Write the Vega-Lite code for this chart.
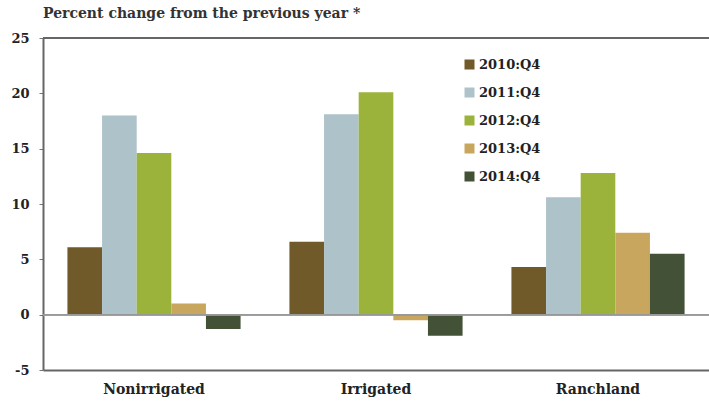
{
  "$schema": "https://vega.github.io/schema/vega-lite/v6.json",
  "width": 666,
  "height": 332,
  "autosize": {"type": "none"},
  "padding": {"left": 43, "top": 38, "right": 0, "bottom": 33},
  "background": "white",
  "title": {"text": "Percent change from the previous year *", "anchor": "start", "frame": "group", "font": "DejaVu Serif", "fontSize": 14, "fontWeight": "bold", "color": "#333333", "offset": 11},
  "config": {"view": {"stroke": null}, "font": "DejaVu Serif"},
  "data": {"values": [
    {"category": "Nonirrigated", "year": "2010:Q4", "value": 6.1},
    {"category": "Nonirrigated", "year": "2011:Q4", "value": 18.0},
    {"category": "Nonirrigated", "year": "2012:Q4", "value": 14.6},
    {"category": "Nonirrigated", "year": "2013:Q4", "value": 1.0},
    {"category": "Nonirrigated", "year": "2014:Q4", "value": -1.3},
    {"category": "Irrigated", "year": "2010:Q4", "value": 6.6},
    {"category": "Irrigated", "year": "2011:Q4", "value": 18.1},
    {"category": "Irrigated", "year": "2012:Q4", "value": 20.1},
    {"category": "Irrigated", "year": "2013:Q4", "value": -0.5},
    {"category": "Irrigated", "year": "2014:Q4", "value": -1.9},
    {"category": "Ranchland", "year": "2010:Q4", "value": 4.3},
    {"category": "Ranchland", "year": "2011:Q4", "value": 10.6},
    {"category": "Ranchland", "year": "2012:Q4", "value": 12.8},
    {"category": "Ranchland", "year": "2013:Q4", "value": 7.4},
    {"category": "Ranchland", "year": "2014:Q4", "value": 5.5}
  ]},
  "layer": [
    {
      "mark": {"type": "bar"},
      "encoding": {
        "x": {"field": "category", "type": "nominal", "sort": ["Nonirrigated", "Irrigated", "Ranchland"],
          "scale": {"paddingInner": 0.22, "paddingOuter": 0.11},
          "axis": {"title": null, "labelAngle": 0, "ticks": false, "domainColor": "#666666", "domainWidth": 2, "labelFont": "DejaVu Serif", "labelFontWeight": "bold", "labelFontSize": 14, "labelColor": "#222222", "labelPadding": 12}},
        "xOffset": {"field": "year", "type": "nominal", "scale": {"paddingInner": 0, "paddingOuter": 0}},
        "y": {"field": "value", "type": "quantitative", "scale": {"domain": [-5, 25], "nice": false},
          "axis": {"title": null, "values": [-5, 0, 5, 10, 15, 20, 25], "labelExpr": "'' + datum.value", "grid": false, "domainColor": "#666666", "domainWidth": 2, "tickColor": "#777777", "tickSize": 4, "labelPadding": 10, "labelFont": "DejaVu Serif", "labelFontWeight": "bold", "labelFontSize": 13, "labelColor": "#222222"}},
        "color": {"field": "year", "type": "nominal",
          "scale": {"domain": ["2010:Q4", "2011:Q4", "2012:Q4", "2013:Q4", "2014:Q4"], "range": ["#715a29", "#aec2c9", "#9cb33b", "#c9a65e", "#435237"]},
          "legend": {"title": null, "orient": "none", "legendX": 420, "legendY": 20, "symbolType": "square", "symbolSize": 100, "symbolStrokeWidth": 0, "labelFont": "DejaVu Serif", "labelFontWeight": "bold", "labelFontSize": 13, "labelColor": "#222222", "rowPadding": 14, "labelOffset": 3}}
      }
    },
    {"mark": {"type": "rule", "color": "#999999", "strokeWidth": 1}, "encoding": {"y": {"datum": 0}}},
    {"mark": {"type": "rule", "color": "#666666", "strokeWidth": 2}, "encoding": {"y": {"datum": 25}}}
  ]
}
